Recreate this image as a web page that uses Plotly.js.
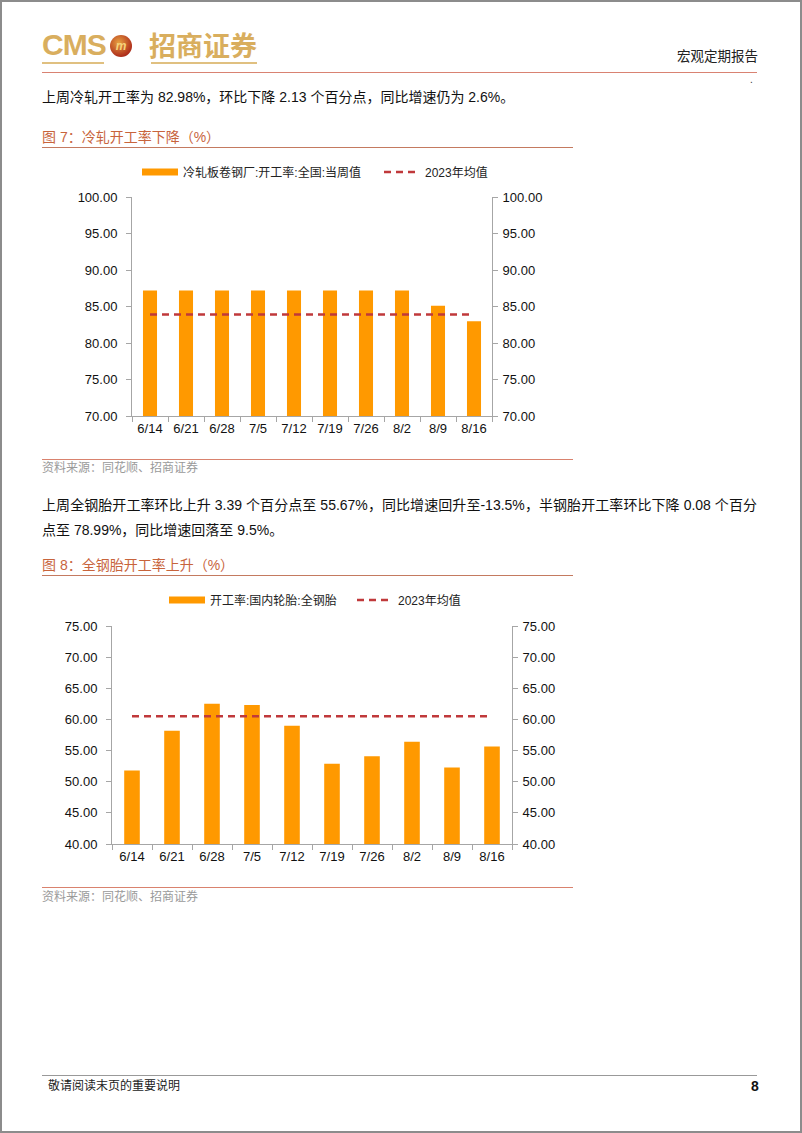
<!DOCTYPE html>
<html>
<head>
<meta charset="utf-8">
<script src="https://cdn.plot.ly/plotly-3.0.1.min.js"></script>
<style>
  body { margin: 0; background: #fff; font-family: "Liberation Sans", "Noto Sans CJK SC", sans-serif; }
  #page { position: relative; width: 802px; height: 1133px; overflow: hidden; }
  #frame { position: absolute; left: 0; top: 0; width: 802px; height: 1133px; box-sizing: border-box; border: 2px solid #8c8c8c; pointer-events: none; }
  .abs { position: absolute; white-space: nowrap; }
  .hline { position: absolute; height: 0; }
  .para { font-size: 14px; color: #111; line-height: 20px; }
  .figtitle { font-size: 14px; color: #C8643C; line-height: 20px; }
  .source { font-size: 12px; color: #9a9a9a; line-height: 16px; }
  .chart { position: absolute; left: 0; width: 802px; height: 300px; }
</style>
</head>
<body>
<div id="page">
  <!-- header / logo -->
  <div class="abs" style="left:42px;top:27px;font-size:30px;font-weight:bold;color:#D9AE5E;letter-spacing:-1px;line-height:36px;">CMS</div>
  <div class="abs" style="left:110px;top:35px;width:22px;height:22px;border-radius:50%;background:radial-gradient(circle at 40% 35%, #E8A040, #B0301C 70%, #7A1A10);color:#F6D27A;font-size:12px;font-weight:bold;text-align:center;line-height:22px;font-style:italic;">m</div>
  <div class="abs" style="left:149px;top:28px;font-size:27px;font-weight:bold;color:#D9AE5E;line-height:34px;font-family:'Noto Sans CJK SC';">招商证券</div>
  <div class="hline" style="left:42px;top:62px;width:62px;border-top:2px solid #E0C080;"></div>
  <div class="hline" style="left:151px;top:62px;width:106px;border-top:2px solid #E0C080;"></div>
  <div class="abs" style="left:677px;top:46px;font-size:13.5px;color:#222;line-height:18px;font-family:'Noto Sans CJK SC';">宏观定期报告</div>
  <div class="hline" style="left:42px;top:72px;width:715px;border-top:1.5px solid #D98272;"></div>
  <div class="abs" style="left:750px;top:74px;font-size:10px;color:#333;">.</div>

  <div class="abs para" style="left:42px;top:87px;">上周冷轧开工率为 82.98%，环比下降 2.13 个百分点，同比增速仍为 2.6%。</div>

  <div class="abs figtitle" style="left:42px;top:127px;">图 7：冷轧开工率下降（%）</div>
  <div class="hline" style="left:42px;top:147px;width:531px;border-top:1.5px solid #C47A60;"></div>

  <div id="chart1" class="chart" style="top:150px;"></div>

  <div class="hline" style="left:42px;top:459px;width:531px;border-top:1.5px solid #D9826E;"></div>
  <div class="abs source" style="left:42px;top:460px;">资料来源：同花顺、招商证券</div>

  <div class="abs para" style="left:42px;top:495px;width:715px;text-align:justify;text-align-last:justify;">上周全钢胎开工率环比上升 3.39 个百分点至 55.67%，同比增速回升至-13.5%，半钢胎开工率环比下降 0.08 个百分</div>
  <div class="abs para" style="left:42px;top:520px;">点至 78.99%，同比增速回落至 9.5%。</div>

  <div class="abs figtitle" style="left:42px;top:555px;">图 8：全钢胎开工率上升（%）</div>
  <div class="hline" style="left:42px;top:575px;width:531px;border-top:1.5px solid #C47A60;"></div>

  <div id="chart2" class="chart" style="top:580px;"></div>

  <div class="hline" style="left:42px;top:887px;width:531px;border-top:1.5px solid #D9826E;"></div>
  <div class="abs source" style="left:42px;top:889px;">资料来源：同花顺、招商证券</div>

  <!-- footer -->
  <div class="hline" style="left:42px;top:1075px;width:715px;border-top:1px solid #999;"></div>
  <div class="abs" style="left:48px;top:1078px;font-size:12px;color:#222;line-height:16px;">敬请阅读末页的重要说明</div>
  <div class="abs" style="left:751px;top:1077px;font-size:14px;font-weight:bold;color:#111;line-height:18px;">8</div>
  <div id="frame"></div>
</div>

<script>
// shared categories (weekly dates)
var weeks = ['6/14', '6/21', '6/28', '7/5', '7/12', '7/19', '7/26', '8/2', '8/9', '8/16'];

// Fig 7: cold-rolled operating rate
var coldRolled = [87.2, 87.2, 87.2, 87.2, 87.2, 87.2, 87.2, 87.2, 85.11, 82.98];
var coldRolledAvg2023 = [83.9, 83.9, 83.9, 83.9, 83.9, 83.9, 83.9, 83.9, 83.9, 83.9];

// Fig 8: all-steel tyre operating rate
var allSteelTyre = [51.8, 58.2, 62.5, 62.3, 59.0, 52.9, 54.1, 56.4, 52.28, 55.67];
var tyreAvg2023 = [60.5, 60.5, 60.5, 60.5, 60.5, 60.5, 60.5, 60.5, 60.5, 60.5];

var barColor = '#FF9900';
var avgColor = '#C0393B';
var axisGray = '#A6A6A6';
var tickFont = { family: 'Liberation Sans, Arial, sans-serif', size: 13, color: '#111' };
var legendFont = { family: 'Liberation Sans, Noto Sans CJK SC, sans-serif', size: 12, color: '#222' };

function legendAt(xPx, y) {
    return {
        orientation: 'h',
        xref: 'container',
        x: xPx / 802,
        xanchor: 'left',
        yref: 'container',
        y: y,
        yanchor: 'middle',
        itemwidth: 36,
        font: legendFont
    };
}

function makeChart(divId, barName, barVals, avgVals, yRange, margin, keyX, avgKeyX, legendY) {
    var bars = {
        x: weeks,
        y: barVals,
        type: 'bar',
        name: barName,
        marker: { color: barColor },
        width: 0.39,
        showlegend: false,
        yaxis: 'y'
    };
    // legend-only entry so the swatch is a flat wide band like the original
    var barKey = {
        x: [null],
        y: [null],
        type: 'scatter',
        mode: 'lines',
        name: barName,
        line: { color: barColor, width: 7 },
        legend: 'legend',
        hoverinfo: 'skip'
    };
    var avgLine = {
        x: weeks,
        y: avgVals,
        type: 'scatter',
        mode: 'lines',
        name: '2023年均值',
        line: { color: avgColor, width: 2.5, dash: '7px,5px' },
        legend: 'legend2',
        yaxis: 'y2'
    };

    var yCommon = {
        range: yRange,
        dtick: 5,
        tickformat: '.2f',
        showgrid: false,
        zeroline: false,
        showline: true,
        linecolor: axisGray,
        linewidth: 1,
        ticks: 'outside',
        ticklen: 5,
        tickcolor: axisGray,
        tickfont: tickFont,
        fixedrange: true
    };

    var layout = {
        width: 802,
        height: 300,
        margin: margin,
        paper_bgcolor: 'rgba(0,0,0,0)',
        plot_bgcolor: 'rgba(0,0,0,0)',
        showlegend: true,
        legend: legendAt(keyX, legendY),
        legend2: legendAt(avgKeyX, legendY),
        xaxis: {
            type: 'category',
            categoryarray: weeks,
            showgrid: false,
            showline: true,
            linecolor: axisGray,
            ticks: 'outside',
            tickson: 'boundaries',
            ticklen: 5,
            tickcolor: axisGray,
            tickfont: tickFont
        },
        yaxis: Object.assign({}, yCommon, { side: 'left', ticklabelstandoff: 6 }),
        yaxis2: Object.assign({}, yCommon, { side: 'right', overlaying: 'y', ticklabelstandoff: 2 }),
        bargap: 0.61
    };

    Plotly.newPlot(divId, [bars, barKey, avgLine], layout, { displayModeBar: false, staticPlot: true });
}

makeChart('chart1', '冷轧板卷钢厂:开工率:全国:当周值', coldRolled, coldRolledAvg2023,
    [70, 100], { l: 132, r: 310, t: 47, b: 34 }, 137, 379, 1 - 22 / 300);

makeChart('chart2', '开工率:国内轮胎:全钢胎', allSteelTyre, tyreAvg2023,
    [40, 75], { l: 112, r: 290, t: 46, b: 36 }, 164, 352, 1 - 20 / 300);
</script>
</body>
</html>
